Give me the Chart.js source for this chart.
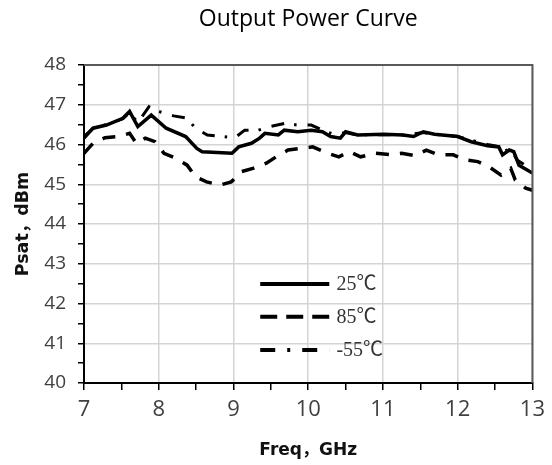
<!DOCTYPE html>
<html><head><meta charset="utf-8">
<script src="https://cdn.jsdelivr.net/npm/chart.js@4.4.1/dist/chart.umd.min.js"></script>
<style>html,body{margin:0;padding:0;background:#fff}#wrap{width:552px;height:465px}</style>
</head><body><div id="wrap"><canvas id="c" width="552" height="465"></canvas></div>
<script>
const titleText = 'Output Power Curve';
const xTitle = 'Freq，GHz';
const yTitle = 'Psat，dBm';
const seriesLabels = ['25℃', '85℃', '-55℃'];

const freq25 = [7.0,7.12,7.30,7.52,7.61,7.72,7.90,8.10,8.36,8.51,8.58,8.98,9.07,9.24,9.35,9.42,9.60,9.68,9.86,10.04,10.19,10.30,10.43,10.50,10.66,11.01,11.27,11.41,11.54,11.69,12.00,12.18,12.40,12.55,12.60,12.69,12.75,12.82,12.93,13.0];
const psat25 = [46.16,46.41,46.49,46.66,46.83,46.45,46.74,46.41,46.2,45.9,45.82,45.78,45.94,46.03,46.16,46.28,46.24,46.36,46.32,46.36,46.32,46.2,46.16,46.32,46.24,46.26,46.24,46.2,46.32,46.26,46.2,46.07,45.97,45.94,45.74,45.86,45.82,45.48,45.36,45.28];

const freq85 = [7.0,7.12,7.28,7.45,7.61,7.70,7.82,7.95,8.07,8.23,8.38,8.49,8.64,8.82,8.97,9.11,9.26,9.44,9.57,9.73,9.90,10.06,10.26,10.41,10.55,10.70,10.90,11.08,11.25,11.43,11.58,11.74,11.94,12.11,12.27,12.42,12.58,12.71,12.77,12.91,13.0];
const psat85 = [45.78,46.03,46.17,46.2,46.28,46.03,46.16,46.07,45.78,45.65,45.48,45.19,45.06,44.98,45.06,45.32,45.40,45.53,45.69,45.86,45.90,45.94,45.78,45.69,45.82,45.69,45.78,45.75,45.78,45.72,45.86,45.74,45.74,45.61,45.57,45.44,45.23,45.40,45.11,44.90,44.85];

const freqM55 = [7.0,7.12,7.30,7.52,7.61,7.72,7.87,8.0,8.2,8.38,8.49,8.65,8.85,9.02,9.15,9.33,9.49,9.68,9.86,10.04,10.19,10.35,10.5,10.66,11.0,11.3,11.54,11.7,12.0,12.2,12.4,12.55,12.6,12.7,12.8,12.93,13.0];
const psatM55 = [46.2,46.4,46.5,46.65,46.8,46.55,46.95,46.83,46.72,46.66,46.41,46.24,46.2,46.17,46.36,46.36,46.45,46.53,46.49,46.49,46.36,46.25,46.3,46.24,46.25,46.24,46.3,46.26,46.2,46.1,46.0,45.95,45.8,45.9,45.6,45.45,45.4];

const xMin = 7, xMax = 13, xStep = 0.5;
const yMin = 40, yMax = 48, yStep = 0.5;

const toPts = (xs, ys) => xs.map((x, i) => ({x: x, y: ys[i]}));

const legendDash = [[], [17, 9], [15, 12, 3, 12]];
const boldFont = '"DejaVu Sans", "Noto Sans CJK SC", sans-serif';

const framePlugin = {
  id: 'frame',
  afterDraw(chart) {
    const {ctx, chartArea: a} = chart;
    ctx.save();
    ctx.strokeStyle = '#595959';
    ctx.lineWidth = 2;
    ctx.beginPath();
    ctx.moveTo(a.left, a.top);
    ctx.lineTo(a.right, a.top);
    ctx.lineTo(a.right, a.bottom);
    ctx.stroke();
    // legend inside plot
    const w = a.right - a.left, h = a.bottom - a.top;
    const x0 = a.left + 0.393 * w, x1 = a.left + 0.547 * w, tx = a.left + 0.563 * w;
    const ys = [0.689, 0.792, 0.896];
    chart.data.datasets.forEach((ds, i) => {
      const y = a.top + ys[i] * h;
      ctx.strokeStyle = ds.borderColor;
      ctx.lineWidth = 4;
      ctx.setLineDash(legendDash[i]);
      ctx.beginPath();
      ctx.moveTo(x0, y);
      ctx.lineTo(x1, y);
      ctx.stroke();
      ctx.setLineDash([]);
      ctx.fillStyle = '#333';
      ctx.font = '20px "Liberation Serif", "Noto Sans CJK SC", serif';
      ctx.textBaseline = 'middle';
      ctx.textAlign = 'left';
      ctx.fillText(ds.label, tx, y + 1);
    });
    ctx.restore();
  }
};

new Chart(document.getElementById('c'), {
  type: 'line',
  data: {
    datasets: [
      {label: seriesLabels[0], data: toPts(freq25, psat25), borderColor: '#000', borderWidth: 3.5, borderDash: [], pointRadius: 0, tension: 0},
      {label: seriesLabels[1], data: toPts(freq85, psat85), borderColor: '#000', borderWidth: 3.5, borderDash: [13, 11], pointRadius: 0, tension: 0},
      {label: seriesLabels[2], data: toPts(freqM55, psatM55), borderColor: '#000', borderWidth: 3, borderDash: [13, 10, 2.5, 11], pointRadius: 0, tension: 0}
    ]
  },
  options: {
    responsive: false,
    animation: false,
    devicePixelRatio: 1,
    layout: {padding: {left: 0, right: 15, top: 0, bottom: 0}},
    plugins: {
      legend: {display: false},
      tooltip: {enabled: false},
      title: {
        display: true, text: titleText, fullSize: false,
        color: '#000',
        font: {family: '"Open Sans", sans-serif', size: 23, weight: 'normal', lineHeight: 1.2},
        padding: {top: 6, bottom: 31.4}
      }
    },
    scales: {
      x: {
        type: 'linear', min: xMin, max: xMax,
        afterFit(s) { s.height = 82; },
        ticks: {
          stepSize: xStep, autoSkip: false, maxRotation: 0,
          color: '#404040', padding: 7,
          font: {family: '"Open Sans", sans-serif', size: 22},
          callback: v => Number.isInteger(v) ? String(v) : ''
        },
        grid: {
          color: c => (c.tick && Number.isInteger(c.tick.value)) ? '#d4d4d4' : 'rgba(0,0,0,0)',
          lineWidth: 1.5, tickColor: '#000', tickLength: 7, tickWidth: 1.5
        },
        border: {display: true, color: '#000', width: 2},
        title: {
          display: true, text: xTitle, color: '#111',
          font: {family: boldFont, size: 17, weight: 'bold'},
          padding: {top: 0, bottom: 4}
        }
      },
      y: {
        type: 'linear', min: yMin, max: yMax,
        afterFit(s) { s.width = 84; },
        ticks: {
          stepSize: yStep, autoSkip: false,
          color: '#404040', padding: 12,
          font: {family: '"Open Sans", sans-serif', size: 19},
          callback: v => Number.isInteger(v) ? String(v) : ''
        },
        grid: {
          color: c => (c.tick && Number.isInteger(c.tick.value)) ? '#d4d4d4' : 'rgba(0,0,0,0)',
          lineWidth: 1.5, tickColor: '#000', tickLength: 6, tickWidth: 1.5
        },
        border: {display: true, color: '#000', width: 2},
        title: {
          display: true, text: yTitle, color: '#111',
          font: {family: boldFont, size: 17.5, weight: 'bold'},
          padding: {top: 13, bottom: 2}
        }
      }
    }
  },
  plugins: [framePlugin]
});
</script>
</body></html>
